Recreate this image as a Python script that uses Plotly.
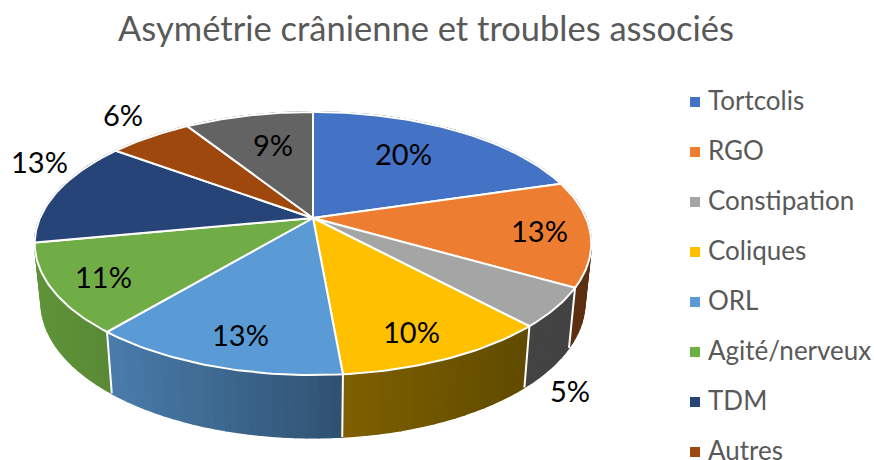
import math
import plotly.graph_objects as go

# ---- data ----
CATEGORIES = ["Tortcolis", "RGO", "Constipation", "Coliques", "ORL", "Agité/nerveux", "TDM", "Autres", ""]
VALUES = [20.4, 12.9, 4.8, 10.49, 12.51, 10.9, 13.1, 5.9, 9.0]
TITLE = "Asymétrie crânienne et troubles associés"

# ---- styles ----
TOP_COLORS = ["#4472c4", "#ed7d31", "#a5a5a5", "#ffc000", "#5b9bd5", "#70ad47", "#264478", "#9e480e", "#636363"]
WALL_LEFT = ["#2a4677", "#5c2f12", "#434343", "#7f6000", "#4a7cab", "#5f9339", "#1a2d50", "#5f2c09", "#3c3c3c"]
WALL_RIGHT = ["#2a4677", "#5c2f12", "#434343", "#5f4b00", "#2f5170", "#5a8a35", "#1a2d50", "#5f2c09", "#3c3c3c"]
LABEL_XY = [(403, 155), (539, 232), (570, 392), (411, 333), (240, 336), (103, 278), (39, 163), (123, 116), (273, 146)]
FONT = "Lato"
TEXT_GREY = "#595959"
LEGEND_SWATCH_X, LEGEND_TEXT_X, LEGEND_TOP, LEGEND_STEP = 695, 709, 102, 50

PAGE_W, PAGE_H = 874, 460

# ---- projection of the disc ----
CX, CY, A, B, K = 313, 218, 273, 126.6, 0.194
WALL_DY, WALL_SX, WALL_SY = 58, 0.977, 1.03


def top(theta):
    u, v = math.sin(theta), -math.cos(theta)
    d = 1 - K * v
    return A * u / d, B * v / d


def rim_top(theta):
    x, y = top(theta)
    return CX + x, CY + y


def rim_bottom(theta):
    x, y = top(theta)
    return CX + WALL_SX * x, CY + WALL_DY + WALL_SY * y


def mix(c1, c2, t):
    a = [int(c1[i:i + 2], 16) for i in (1, 3, 5)]
    b = [int(c2[i:i + 2], 16) for i in (1, 3, 5)]
    return "#%02x%02x%02x" % tuple(round(p + (q - p) * t) for p, q in zip(a, b))


total = sum(VALUES)
edges = [0.0]
for v in VALUES:
    edges.append(edges[-1] + v / total * 2 * math.pi)

fig = go.Figure()


def poly(xs, ys, fill, line="rgba(0,0,0,0)", width=0.0):
    fig.add_trace(go.Scatter(x=xs, y=ys, mode="lines", fill="toself", fillcolor=fill,
                             line=dict(color=line, width=width), showlegend=False, hoverinfo="skip"))


# silhouette halo of the wall
arc = [i * 2 * math.pi / 240 for i in range(241)]
pts = [rim_bottom(t) for t in arc]
poly([p[0] for p in pts], [p[1] for p in pts], "#ffffff", "#dddddd", 1.5)

# walls, back to front
order = [8, 7, 0, 6, 1, 5, 2, 4, 3]
for i in order:
    a0, a1 = edges[i], edges[i + 1]
    n = max(3, int((a1 - a0) / math.radians(2)))
    x_start, x_end = rim_top(a1)[0], rim_top(a0)[0]
    for s in range(n):
        t0 = a0 + (a1 - a0) * s / n
        t1 = a0 + (a1 - a0) * (s + 1) / n
        p = [rim_top(t0), rim_top(t1), rim_bottom(t1), rim_bottom(t0), rim_top(t0)]
        xl = (p[0][0] + p[1][0]) / 2
        frac = min(1, max(0, (xl - x_start) / (x_end - x_start)))
        col = mix(WALL_LEFT[i], WALL_RIGHT[i], frac)
        poly([q[0] for q in p], [q[1] for q in p], col, col, 1.5)

# vertical separators on the visible front walls
for e in edges[:-1]:
    if -math.cos(e) > 0.3:
        p, q = rim_top(e), rim_bottom(e)
        fig.add_trace(go.Scatter(x=[p[0], q[0]], y=[p[1], q[1]], mode="lines",
                                 line=dict(color="#ffffff", width=2), showlegend=False, hoverinfo="skip"))

# top faces
for i in range(len(VALUES)):
    a0, a1 = edges[i], edges[i + 1]
    n = max(8, int((a1 - a0) / math.radians(1)))
    pts = [(CX, CY)] + [rim_top(a0 + (a1 - a0) * s / n) for s in range(n + 1)] + [(CX, CY)]
    poly([p[0] for p in pts], [p[1] for p in pts], TOP_COLORS[i], "#ffffff", 2)

# legend (the ninth category falls outside the reference picture)
legend_names = CATEGORIES[:8]
legend_y = [LEGEND_TOP + LEGEND_STEP * i for i in range(len(legend_names))]
fig.add_trace(go.Scatter(x=[LEGEND_SWATCH_X] * len(legend_names), y=legend_y, mode="markers",
                         marker=dict(symbol="square", size=10, color=TOP_COLORS[:8]),
                         showlegend=False, hoverinfo="skip"))

annotations = [
    dict(x=x, y=y, text=f"{round(v / total * 100)}%", showarrow=False, yshift=2,
         font=dict(family=FONT, size=29, color="#000000"), xanchor="center", yanchor="middle")
    for (x, y), v in zip(LABEL_XY, VALUES)
] + [
    dict(x=LEGEND_TEXT_X, y=y, text=name, showarrow=False, xanchor="left", yanchor="middle",
         xshift=-3, yshift=2, font=dict(family=FONT, size=26, color=TEXT_GREY))
    for name, y in zip(legend_names, legend_y)
]

fig.update_layout(
    width=PAGE_W, height=PAGE_H,
    margin=dict(l=0, r=0, t=0, b=0),
    paper_bgcolor="#ffffff", plot_bgcolor="#ffffff",
    title=dict(text=TITLE, x=426 / PAGE_W, y=1 - 29 / PAGE_H,
               xanchor="center", yanchor="middle",
               font=dict(family=FONT, size=34.5, color=TEXT_GREY)),
    xaxis=dict(range=[0, PAGE_W], visible=False, fixedrange=True),
    yaxis=dict(range=[PAGE_H, 0], visible=False, fixedrange=True),
    annotations=annotations,
    showlegend=False,
)

fig.write_html("out.html", config={"displayModeBar": False},
               post_script="document.body.style.margin='0';document.documentElement.style.overflow='hidden';")
